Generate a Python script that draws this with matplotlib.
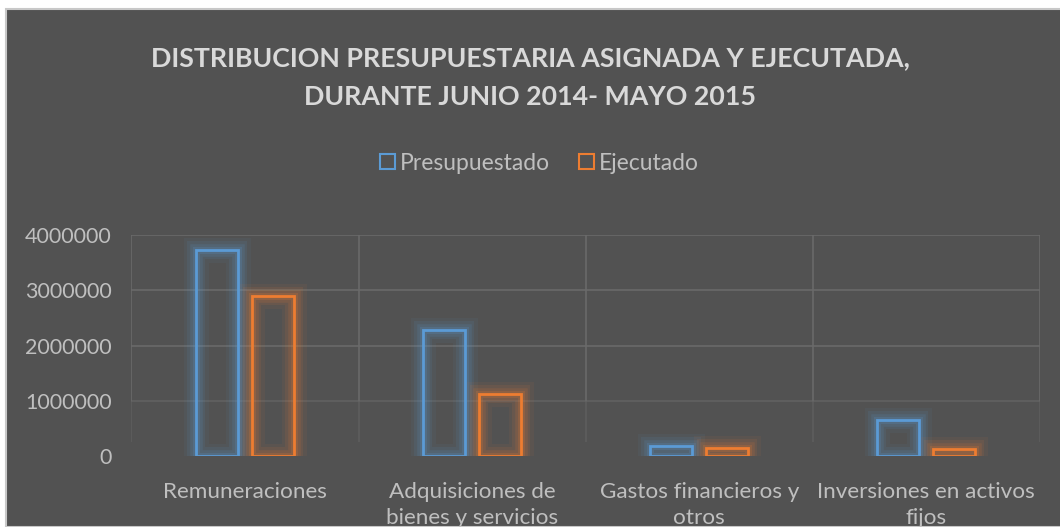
import matplotlib
matplotlib.use('Agg')
import matplotlib.pyplot as plt
import matplotlib.patheffects as pe
from matplotlib.patches import Patch, Rectangle
import numpy as np

categories = ["Remuneraciones", "Adquisiciones de\nbienes y servicios",
              "Gastos financieros y\notros", "Inversiones en activos\nfijos"]
presupuestado = [3730000, 2280000, 180000, 650000]
ejecutado = [2890000, 1120000, 145000, 130000]
y_ticks = [0, 1000000, 2000000, 3000000, 4000000]

title = "DISTRIBUCION PRESUPUESTARIA ASIGNADA Y EJECUTADA,\nDURANTE JUNIO 2014- MAYO 2015"

bg = '#525252'
grid_col = '#6a6a6a'
text_col = '#bfbfbf'
color_a = '#5b9bd5'
color_b = '#ed7d31'

plt.rcParams['font.family'] = ['Lato', 'DejaVu Sans']

fig = plt.figure(figsize=(10.6, 5.27), dpi=100, facecolor='white')
fig.patches.append(Rectangle((5.5 / 1060, 0), 1, 1 - 9 / 527, transform=fig.transFigure,
                             facecolor=bg, edgecolor='#c8c8c8', linewidth=1.5, zorder=-5))

ax = fig.add_axes([0.124, 0.1347, 0.857, 0.4194])
ax.set_zorder(2)
ax.set_facecolor('none')
for s in ax.spines.values():
    s.set_visible(False)

ax.set_xlim(-0.5, len(categories) - 0.5)
ax.set_ylim(0, 4000000)

# grid (lower part fades out like the original)
for yv in y_ticks[2:]:
    ax.axhline(yv, color=grid_col, lw=1.2, zorder=1)
ax.axhline(y_ticks[1], color=grid_col, lw=1.2, alpha=0.6, zorder=1)
xg = np.arange(-0.5, len(categories), 1.0)
ax.vlines(xg, 1000000, 4000000, color=grid_col, lw=1.2, zorder=1)
ax.vlines(xg, 250000, 1000000, color=grid_col, lw=1.2, alpha=0.45, zorder=1)

x = np.arange(len(categories))
width = 0.185
off = 0.123


def glow(color):
    return [pe.Stroke(linewidth=18, foreground=color, alpha=0.06),
            pe.Stroke(linewidth=13, foreground=color, alpha=0.09),
            pe.Stroke(linewidth=9, foreground=color, alpha=0.13),
            pe.Stroke(linewidth=5, foreground=color, alpha=0.18),
            pe.Normal()]


bars_a = ax.bar(x - off, presupuestado, width, facecolor='none', edgecolor=color_a,
                linewidth=2, zorder=3)
bars_b = ax.bar(x + off, ejecutado, width, facecolor='none', edgecolor=color_b,
                linewidth=2, zorder=3)
for b in bars_a:
    b.set_path_effects(glow(color_a))
for b in bars_b:
    b.set_path_effects(glow(color_b))

ax.set_yticks(y_ticks)
ax.set_yticklabels([str(v) for v in y_ticks])
ax.set_xticks(x)
ax.set_xticklabels(categories, linespacing=1.35)
ax.tick_params(axis='both', length=0, colors=text_col)
ax.tick_params(axis='y', pad=14, labelsize=15.5)
ax.tick_params(axis='x', pad=19, labelsize=16.2)

fig.text(0.5, 0.853, title, ha='center', va='center', fontsize=19.3,
         fontweight='bold', color='#d9d9d9', linespacing=1.75)

handles = [Patch(facecolor='none', edgecolor=color_a, linewidth=1.5, label='Presupuestado'),
           Patch(facecolor='none', edgecolor=color_b, linewidth=1.5, label='Ejecutado')]
leg = fig.legend(handles=handles, loc='center', bbox_to_anchor=(0.509, 0.69), ncol=2,
                 frameon=False, fontsize=16.5, handlelength=0.65, handleheight=0.65,
                 handletextpad=0.2, columnspacing=1.3)
for t in leg.get_texts():
    t.set_color(text_col)

fig.savefig('out.png', dpi=100, facecolor=fig.get_facecolor())
